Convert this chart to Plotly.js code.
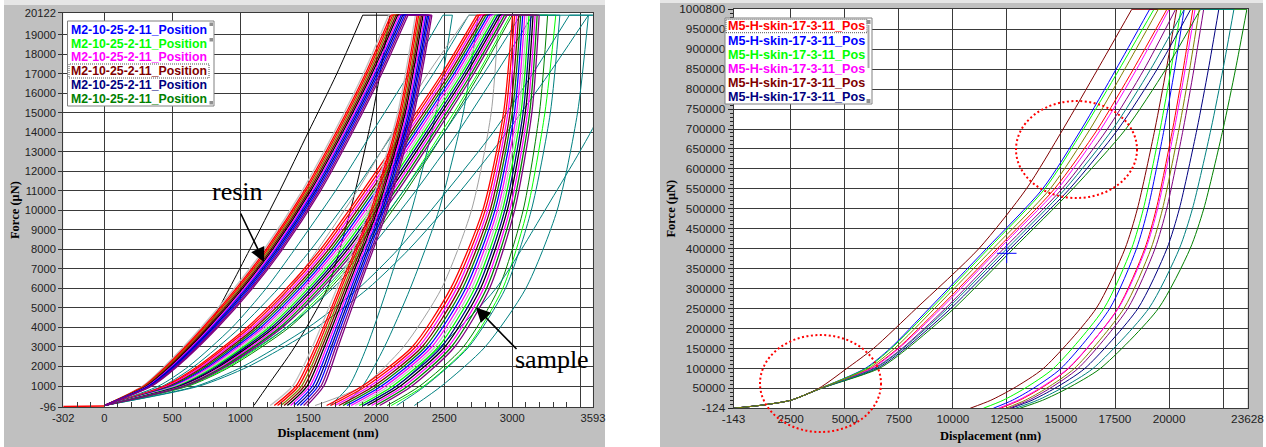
<!DOCTYPE html>
<html><head><meta charset="utf-8">
<script src="https://cdn.plot.ly/plotly-3.0.1.min.js"></script>
<style>html,body{margin:0;padding:0;background:#fff;}#chart{width:1266px;height:447px;}</style>
</head><body><div id="chart"></div>
<script>
// ---------------- LEFT PANEL DATA (M2-10-25-2-11) ----------------
const leftXTicks = [-302, 0, 500, 1000, 1500, 2000, 2500, 3000, 3500, 3593];
const leftXTickText = ['-302', '0', '500', '1000', '1500', '2000', '2500', '3000', '', '3593'];
const leftYTicks = [-96, 1000, 2000, 3000, 4000, 5000, 6000, 7000, 8000, 9000, 10000, 11000, 12000, 13000, 14000, 15000, 16000, 17000, 18000, 19000, 20122];
const leftYTickText = ['-96', '1000', '2000', '3000', '4000', '5000', '6000', '7000', '8000', '9000', '10000', '11000', '12000', '13000', '14000', '15000', '16000', '17000', '18000', '19000', '20122'];
const leftForceLoad = [0, 1000, 2000, 4000, 6000, 8000, 11000, 14000, 17000, 20000];
const leftForceUnload = [20000, 15000, 10000, 6000, 3000, 1000, 0];

const preContactX = [-302, -200, -100, 0];
const preContactF = [-55, -52, -48, -30];

const resinColors = ['#c0c0c0', '#ff0000', '#ff0000', '#808000', '#800000', '#000000', '#ff00ff', '#0000ff', '#000080', '#0000ff', '#800080', '#800080'];
const resinLoadX = [
  [0, 282, 442, 712, 955, 1175, 1455, 1690, 1905, 2091],
  [0, 290, 453, 726, 970, 1190, 1470, 1705, 1920, 2107],
  [0, 296, 461, 737, 982, 1202, 1482, 1717, 1932, 2120],
  [0, 302, 470, 748, 994, 1214, 1494, 1729, 1944, 2132],
  [0, 308, 478, 758, 1006, 1226, 1506, 1741, 1956, 2145],
  [0, 314, 487, 769, 1018, 1238, 1518, 1753, 1968, 2157],
  [0, 320, 495, 780, 1030, 1250, 1530, 1765, 1980, 2170],
  [0, 326, 503, 791, 1042, 1262, 1542, 1777, 1992, 2183],
  [0, 332, 512, 802, 1054, 1274, 1554, 1789, 2004, 2195],
  [0, 338, 520, 812, 1066, 1286, 1566, 1801, 2016, 2208],
  [0, 344, 529, 823, 1078, 1298, 1578, 1813, 2028, 2220],
  [0, 350, 537, 834, 1090, 1310, 1590, 1825, 2040, 2233]
];
const resinUnloadX = [
  [2288, 2158, 1945, 1710, 1530, 1385, 1220],
  [2301, 2171, 1960, 1728, 1551, 1410, 1250],
  [2312, 2182, 1972, 1742, 1568, 1430, 1274],
  [2323, 2193, 1984, 1757, 1585, 1451, 1298],
  [2333, 2203, 1996, 1771, 1601, 1471, 1322],
  [2344, 2214, 2008, 1786, 1618, 1492, 1346],
  [2355, 2225, 2020, 1800, 1635, 1512, 1370],
  [2366, 2236, 2032, 1814, 1652, 1532, 1394],
  [2377, 2247, 2044, 1829, 1669, 1553, 1418],
  [2387, 2257, 2056, 1843, 1685, 1573, 1442],
  [2398, 2268, 2068, 1858, 1702, 1594, 1466],
  [2409, 2279, 2080, 1872, 1719, 1614, 1490]
];

const sampleColors = ['#ff0000', '#ff0000', '#ff00ff', '#800000', '#008000', '#0000ff', '#ff00ff', '#c0c0c0', '#00ff00', '#000080', '#000000', '#ff00ff', '#008000', '#800080'];
const sampleLoadX = [
  [0, 442, 686, 1050, 1340, 1590, 1900, 2196, 2483, 2739],
  [0, 454, 702, 1070, 1360, 1610, 1920, 2215, 2501, 2756],
  [0, 466, 718, 1090, 1380, 1630, 1940, 2234, 2519, 2773],
  [0, 478, 734, 1110, 1400, 1650, 1960, 2253, 2537, 2790],
  [0, 490, 750, 1130, 1420, 1670, 1980, 2272, 2555, 2807],
  [0, 502, 766, 1150, 1440, 1690, 2000, 2291, 2573, 2824],
  [0, 514, 782, 1170, 1460, 1710, 2020, 2310, 2591, 2841],
  [0, 526, 798, 1190, 1480, 1730, 2040, 2330, 2609, 2859],
  [0, 538, 814, 1210, 1500, 1750, 2060, 2349, 2627, 2876],
  [0, 550, 830, 1230, 1520, 1770, 2080, 2368, 2645, 2893],
  [0, 562, 846, 1250, 1540, 1790, 2100, 2387, 2663, 2910],
  [0, 574, 862, 1270, 1560, 1810, 2120, 2406, 2681, 2927],
  [0, 586, 878, 1290, 1580, 1830, 2140, 2425, 2699, 2944],
  [0, 598, 894, 1310, 1600, 1850, 2160, 2444, 2717, 2961]
];
const sampleUnloadX = [
  [3002, 2936, 2783, 2547, 2264, 1898, 1635],
  [3017, 2952, 2801, 2569, 2288, 1926, 1665],
  [3032, 2968, 2819, 2591, 2312, 1954, 1695],
  [3047, 2984, 2837, 2613, 2336, 1982, 1725],
  [3062, 3000, 2855, 2635, 2360, 2010, 1755],
  [3077, 3016, 2873, 2657, 2384, 2038, 1785],
  [3092, 3032, 2891, 2679, 2408, 2066, 1815],
  [3108, 3048, 2909, 2701, 2432, 2094, 1845],
  [3123, 3064, 2927, 2723, 2456, 2122, 1875],
  [3138, 3080, 2945, 2745, 2480, 2150, 1905],
  [3153, 3096, 2963, 2767, 2504, 2178, 1935],
  [3168, 3112, 2981, 2789, 2528, 2206, 1965],
  [3183, 3128, 2999, 2811, 2552, 2234, 1995],
  [3198, 3144, 3017, 2833, 2576, 2262, 2025]
];

const otherColors = ['#000000', '#008080', '#008080', '#a0a0a0', '#008000', '#00ff00', '#008080', '#008080', '#008080', '#008080', '#008080'];
const otherLoadX = [
  [0, 330, 520, 760, 920, 1070, 1290, 1500, 1710, 1900],
  [0, 400, 620, 940, 1190, 1400, 1700, 1970, 2240, 2490],
  [0, 430, 660, 1000, 1280, 1520, 1840, 2130, 2420, 2680],
  [0, 540, 790, 1110, 1360, 1570, 1860, 2120, 2380, 2680],
  [0, 620, 930, 1360, 1660, 1910, 2220, 2500, 2760, 3000],
  [0, 610, 915, 1340, 1640, 1890, 2200, 2480, 2745, 2985],
  [0, 580, 880, 1300, 1620, 1880, 2200, 2500, 2790, 3060],
  [0, 600, 900, 1340, 1680, 1950, 2290, 2600, 2880, 3150],
  [0, 680, 1020, 1500, 1870, 2160, 2520, 2860, 3150, 3420],
  [0, 700, 1060, 1560, 1940, 2240, 2620, 2960, 3270, 3560],
  null
];
const otherUnloadX = [
  [2100, 1975, 1810, 1640, 1400, 1200, 1100],
  [2560, 2440, 2260, 2080, 1930, 1800, 1660],
  [2750, 2640, 2460, 2250, 2060, 1900, 1760],
  [2900, 2845, 2700, 2480, 2200, 1900, 1550],
  [3260, 3200, 3080, 2900, 2640, 2320, 2080],
  [3320, 3240, 3110, 2930, 2670, 2350, 2110],
  [3350, 3280, 3140, 2950, 2680, 2360, 2150],
  [3560, 3480, 3330, 3100, 2800, 2480, 2280],
  [3700],
  [3700],
  [3900, 3650, 3240, 2880, 2468, 2150, 1900]
];

const leftLegendText = ['M2-10-25-2-11_Position', 'M2-10-25-2-11_Position', 'M2-10-25-2-11_Position', 'M2-10-25-2-11_Position', 'M2-10-25-2-11_Position', 'M2-10-25-2-11_Position'];
const leftLegendColors = ['#0000ff', '#00ff00', '#ff00ff', '#800000', '#000080', '#008000'];

// ---------------- RIGHT PANEL DATA (M5-H-skin-17-3-11) ----------------
const rightXTicks = [-143, 2500, 5000, 7500, 10000, 12500, 15000, 17500, 20000, 22500, 23628];
const rightXTickText = ['-143', '2500', '5000', '7500', '10000', '12500', '15000', '17500', '20000', '', '23628'];
const rightYTicks = [-124, 50000, 100000, 150000, 200000, 250000, 300000, 350000, 400000, 450000, 500000, 550000, 600000, 650000, 700000, 750000, 800000, 850000, 900000, 950000, 1000800];
const rightYTickText = ['-124', '50000', '100000', '150000', '200000', '250000', '300000', '350000', '400000', '450000', '500000', '550000', '600000', '650000', '700000', '750000', '800000', '850000', '900000', '950000', '1000800'];
const rightForceLoad = [0, 8000, 20000, 50000, 100000, 150000, 250000, 400000, 550000, 700000, 850000, 1000000];
const rightForceUnload = [1000000, 850000, 700000, 500000, 400000, 250000, 100000, 50000, 20000, 0];
const rightColors = ['#ff0000', '#0000ff', '#00ff00', '#ff00ff', '#800000', '#000080', '#008000', '#800080', '#008080', '#808000'];
const rightLoadX = [
  [-143, 1200, 2500, 3890, 6200, 7450, 9350, 12050, 14700, 16700, 18350, 19900],
  [-143, 1200, 2500, 3870, 5950, 7100, 8900, 11550, 14150, 15950, 17550, 19100],
  [-143, 1200, 2500, 3870, 6000, 7150, 9000, 11650, 14250, 16050, 17700, 19300],
  [-143, 1200, 2500, 3890, 6250, 7500, 9450, 12150, 14850, 16850, 18500, 20000],
  [-143, 1200, 2500, 3800, 5100, 6330, 8300, 11200, 13400, 15100, 16700, 18275],
  [-143, 1200, 2500, 3910, 6500, 7800, 9900, 12650, 15400, 17650, 19450, 21000],
  [-143, 1200, 2500, 3920, 6600, 7900, 10050, 12800, 15550, 18000, 19850, 21450],
  [-143, 1200, 2500, 3900, 6350, 7650, 9650, 12350, 15050, 17150, 18850, 20300],
  [-143, 1200, 2500, 3900, 6400, 7700, 9750, 12500, 15200, 17400, 19150, 20700],
  [-143, 1200, 2500, 3880, 6100, 7300, 9150, 11850, 14500, 16350, 17950, 19500]
];
const rightUnloadX = [
  [21100, 20655, 20166, 19409, 18875, 17629, 15360, 14069, 13090, 12200],
  [20700, 20259, 19773, 19022, 18493, 17256, 15005, 13724, 12753, 11870],
  [20550, 20093, 19590, 18813, 18265, 16985, 14655, 13329, 12324, 11410],
  [21200, 20745, 20245, 19471, 18925, 17651, 15331, 14011, 13010, 12100],
  [20350, 19873, 19347, 18536, 17963, 16626, 14190, 12806, 11755, 10800],
  [22300, 21820, 21292, 20476, 19900, 18556, 16108, 14716, 13660, 12700],
  [23600, 23075, 22498, 21605, 20975, 19505, 16828, 15305, 14150, 13100],
  [21600, 21150, 20655, 19890, 19350, 18090, 15795, 14490, 13500, 12600],
  [23000, 22495, 21940, 21081, 20475, 19061, 16486, 15021, 13910, 12900],
  [21400, 20953, 20460, 19700, 19163, 17910, 15627, 14330, 13345, 12450]
];
const cursorX = [12490];
const cursorF = [388400];
const rightLegendText = ['M5-H-skin-17-3-11_Pos', 'M5-H-skin-17-3-11_Pos', 'M5-H-skin-17-3-11_Pos', 'M5-H-skin-17-3-11_Pos', 'M5-H-skin-17-3-11_Pos', 'M5-H-skin-17-3-11_Pos'];
const rightLegendColors = ['#ff0000', '#0000ff', '#00ff00', '#ff00ff', '#800000', '#000080'];

// ---------------- BUILD ----------------
const W = 1266, H = 447;
const px = v => v / W, py = v => 1 - v / H;
const LP = {x0: 63.2, x1: 592.9, y0: 12.8, y1: 407.4};
const RP = {x0: 733.6, x1: 1247.5, y0: 9.0, y1: 408.3};
const SANS = 'Liberation Sans, Arial, sans-serif';
const SERIF = 'Liberation Serif, Times New Roman, serif';
const GRID = '#3a3a3a';

const traces = [];
function addTest(xa, ya, lx, lf, ux, uf, color, width) {
  const c = {xaxis: xa, yaxis: ya, mode: 'lines', hoverinfo: 'skip', showlegend: false};
  if (lx) traces.push(Object.assign({}, c, {x: lx, y: lf, line: {color: color, width: width, shape: 'spline', smoothing: 0.7}}));
  if (lx && ux) traces.push(Object.assign({}, c, {x: [lx[lx.length - 1], ux[0]], y: [lf[lf.length - 1], uf[0]], line: {color: color, width: width}}));
  if (ux && ux.length > 1) traces.push(Object.assign({}, c, {x: ux, y: uf.slice(0, ux.length), line: {color: color, width: width, shape: 'spline', smoothing: 0.7}}));
}
traces.push({xaxis: 'x', yaxis: 'y', mode: 'lines', x: preContactX, y: preContactF, line: {color: '#ff0000', width: 1.5}, hoverinfo: 'skip', showlegend: false});
otherLoadX.forEach((lx, i) => addTest('x', 'y', lx, leftForceLoad, otherUnloadX[i], leftForceUnload, otherColors[i], 1));
sampleLoadX.forEach((lx, i) => addTest('x', 'y', lx, leftForceLoad, sampleUnloadX[i], leftForceUnload, sampleColors[i], 1.3));
resinLoadX.forEach((lx, i) => addTest('x', 'y', lx, leftForceLoad, resinUnloadX[i], leftForceUnload, resinColors[i], 1.3));
rightLoadX.forEach((lx, i) => addTest('x2', 'y2', lx, rightForceLoad, rightUnloadX[i], rightForceUnload, rightColors[i], 1));
traces.push({xaxis: 'x2', yaxis: 'y2', mode: 'markers', x: cursorX, y: cursorF, marker: {symbol: 'cross-thin', size: 14, line: {color: '#0000ff', width: 1}}, hoverinfo: 'skip', showlegend: false});

const tickFontL = {family: SANS, size: 11.2, color: '#222'};
const tickFontR = {family: SANS, size: 11.8, color: '#222'};
const titleFont = {family: SERIF, size: 12.5, color: '#000'};

const layout = {
  width: W, height: H, margin: {l: 0, r: 0, t: 0, b: 0, pad: 0},
  paper_bgcolor: '#ffffff', plot_bgcolor: 'rgba(0,0,0,0)', showlegend: false,
  xaxis: {domain: [px(LP.x0), px(LP.x1)], anchor: 'y', range: [-302, 3593], tickmode: 'array', tickvals: leftXTicks, ticktext: leftXTickText,
    showgrid: true, gridcolor: GRID, gridwidth: 1, zeroline: false, showline: true, linecolor: GRID, mirror: true,
    ticks: 'inside', ticklen: 5, tickcolor: GRID, tickfont: tickFontL,
    minor: {tickmode: 'linear', tick0: 0, dtick: 100, ticks: 'inside', ticklen: 5, tickcolor: GRID, showgrid: false},
    title: {text: '<b>Displacement (nm)</b>', font: titleFont, standoff: 5}, fixedrange: true},
  yaxis: {domain: [py(LP.y1), py(LP.y0)], anchor: 'x', range: [-96, 20122], tickmode: 'array', tickvals: leftYTicks, ticktext: leftYTickText,
    showgrid: true, gridcolor: GRID, gridwidth: 1, zeroline: false, showline: true, linecolor: GRID, mirror: true,
    ticks: 'outside', ticklen: 4, tickcolor: '#333', tickfont: tickFontL,
    title: {text: '<b>Force (μN)</b>', font: titleFont, standoff: 1.5}, fixedrange: true},
  yaxis3: {overlaying: 'y', anchor: 'free', position: px(104.3), range: [-96, 20122], tickmode: 'linear', tick0: 0, dtick: 1000,
    ticks: 'outside', ticklen: 5, tickcolor: '#222', showticklabels: false, showgrid: false, zeroline: false, showline: false,
    minor: {tickmode: 'linear', tick0: 0, dtick: 200, ticks: 'outside', ticklen: 3.5, tickcolor: '#222'}, fixedrange: true},
  yaxis4: {overlaying: 'y', anchor: 'free', position: px(104.3), range: [-96, 20122], tickmode: 'linear', tick0: 0, dtick: 1000,
    ticks: 'inside', ticklen: 5, tickcolor: '#222', showticklabels: false, showgrid: false, zeroline: false, showline: false,
    minor: {tickmode: 'linear', tick0: 0, dtick: 200, ticks: 'inside', ticklen: 3.5, tickcolor: '#222'}, fixedrange: true},
  xaxis2: {domain: [px(RP.x0), px(RP.x1)], anchor: 'y2', range: [-143, 23628], tickmode: 'array', tickvals: rightXTicks, ticktext: rightXTickText,
    showgrid: true, gridcolor: GRID, gridwidth: 1, zeroline: false, showline: true, linecolor: GRID, mirror: true,
    ticks: '', tickfont: tickFontR,
    title: {text: '<b>Displacement (nm)</b>', font: titleFont, standoff: 5}, fixedrange: true},
  yaxis2: {domain: [py(RP.y1), py(RP.y0)], anchor: 'x2', range: [-124, 1000800], tickmode: 'array', tickvals: rightYTicks, ticktext: rightYTickText,
    showgrid: true, gridcolor: GRID, gridwidth: 1, zeroline: false, showline: true, linecolor: GRID, mirror: true,
    ticks: 'outside', ticklen: 5, tickcolor: '#222', tickfont: tickFontR,
    minor: {tickmode: 'linear', tick0: 0, dtick: 10000, ticks: 'outside', ticklen: 3, tickcolor: '#222', showgrid: false},
    title: {text: '<b>Force (μN)</b>', font: titleFont, standoff: 0}, fixedrange: true},
  yaxis5: {overlaying: 'y2', anchor: 'free', position: px(RP.x0), range: [-124, 1000800], tickmode: 'linear', tick0: 0, dtick: 50000,
    ticks: 'inside', ticklen: 5, tickcolor: '#222', showticklabels: false, showgrid: false, zeroline: false, showline: false,
    minor: {tickmode: 'linear', tick0: 0, dtick: 10000, ticks: 'inside', ticklen: 3, tickcolor: '#222'}, fixedrange: true},
  shapes: [], annotations: []
};

function rect(x0, y0, x1, y1, fill, line, layer, extra) {
  return Object.assign({type: 'rect', xref: 'paper', yref: 'paper', x0: px(x0), x1: px(x1), y0: py(y1), y1: py(y0),
    fillcolor: fill, line: line || {width: 0}, layer: layer || 'below'}, extra || {});
}
layout.shapes.push(
  rect(4, 0, 605, 447, '#c0c0c0'),
  rect(4, 0, 605, 5, '#e6e6e6'),
  rect(LP.x0, LP.y0, LP.x1, LP.y1, '#ffffff'),
  rect(660, 0, 1263, 447, '#c0c0c0'),
  rect(660, 0, 1263, 3, '#e6e6e6'),
  rect(RP.x0, RP.y0, RP.x1, RP.y1, '#ffffff'),
  // legends
  rect(67.5, 21, 214, 106, '#ffffff', {color: '#808080', width: 1}, 'above'),
  rect(69, 64, 209, 78, 'rgba(0,0,0,0)', {color: '#555', width: 1, dash: '1px,1px'}, 'above'),
  rect(209.5, 22.5, 213, 26, '#909090', {width: 0}, 'above'),
  rect(209.5, 38, 213, 41.5, '#909090', {width: 0}, 'above'),
  rect(209.5, 101, 213, 104.5, '#909090', {width: 0}, 'above'),
  rect(725, 18, 872, 104, '#ffffff', {color: '#808080', width: 1}, 'above'),
  rect(726, 19.3, 867, 32.7, 'rgba(0,0,0,0)', {color: '#555', width: 1, dash: '1px,1px'}, 'above'),
  rect(866.5, 20, 870.5, 24, '#909090', {width: 0}, 'above'),
  rect(867.5, 25, 869.5, 68, '#a8a8a8', {width: 0}, 'above'),
  rect(866.5, 99, 870.5, 103, '#909090', {width: 0}, 'above'),
  // dotted ellipses
  {type: 'circle', xref: 'paper', yref: 'paper', x0: px(1016), x1: px(1137), y0: py(198), y1: py(101), line: {color: '#ff0000', width: 2, dash: '2px,2.5px'}, layer: 'above'},
  {type: 'circle', xref: 'paper', yref: 'paper', x0: px(760), x1: px(881), y0: py(432), y1: py(335), line: {color: '#ff0000', width: 2, dash: '2px,2.5px'}, layer: 'above'}
);

const leftRows = [30, 43.7, 57.3, 71.3, 85.3, 99];
leftLegendText.forEach((t, i) => layout.annotations.push({xref: 'paper', yref: 'paper', x: px(70), y: py(leftRows[i]), xanchor: 'left', yanchor: 'middle',
  text: '<b>' + t + '</b>', showarrow: false, font: {family: SANS, size: 12.3, color: leftLegendColors[i]}, borderpad: 0}));
const rightRows = [26, 40.7, 54.7, 68.7, 82.7, 97];
rightLegendText.forEach((t, i) => layout.annotations.push({xref: 'paper', yref: 'paper', x: px(727), y: py(rightRows[i]), xanchor: 'left', yanchor: 'middle',
  text: '<b>' + t + '</b>', showarrow: false, font: {family: SANS, size: 12.6, color: rightLegendColors[i]}, borderpad: 0}));

layout.annotations.push(
  {xref: 'paper', yref: 'paper', x: px(237), y: py(191.5), xanchor: 'center', yanchor: 'middle', text: 'resin', showarrow: false, font: {family: SERIF, size: 26, color: '#000'}},
  {xref: 'paper', yref: 'paper', x: px(551.5), y: py(359), xanchor: 'center', yanchor: 'middle', text: 'sample', showarrow: false, font: {family: SERIF, size: 26, color: '#000'}},
  {xref: 'paper', yref: 'paper', x: px(264), y: py(262), text: '', showarrow: true, ax: -24, ay: -50, arrowhead: 2, arrowsize: 1.8, arrowwidth: 1.6, arrowcolor: '#000'},
  {xref: 'paper', yref: 'paper', x: px(476), y: py(307.5), text: '', showarrow: true, ax: 42, ay: 43, arrowhead: 2, arrowsize: 1.8, arrowwidth: 1.6, arrowcolor: '#000'}
);

Plotly.newPlot('chart', traces, layout, {staticPlot: true, displayModeBar: false});
</script>
</body></html>
